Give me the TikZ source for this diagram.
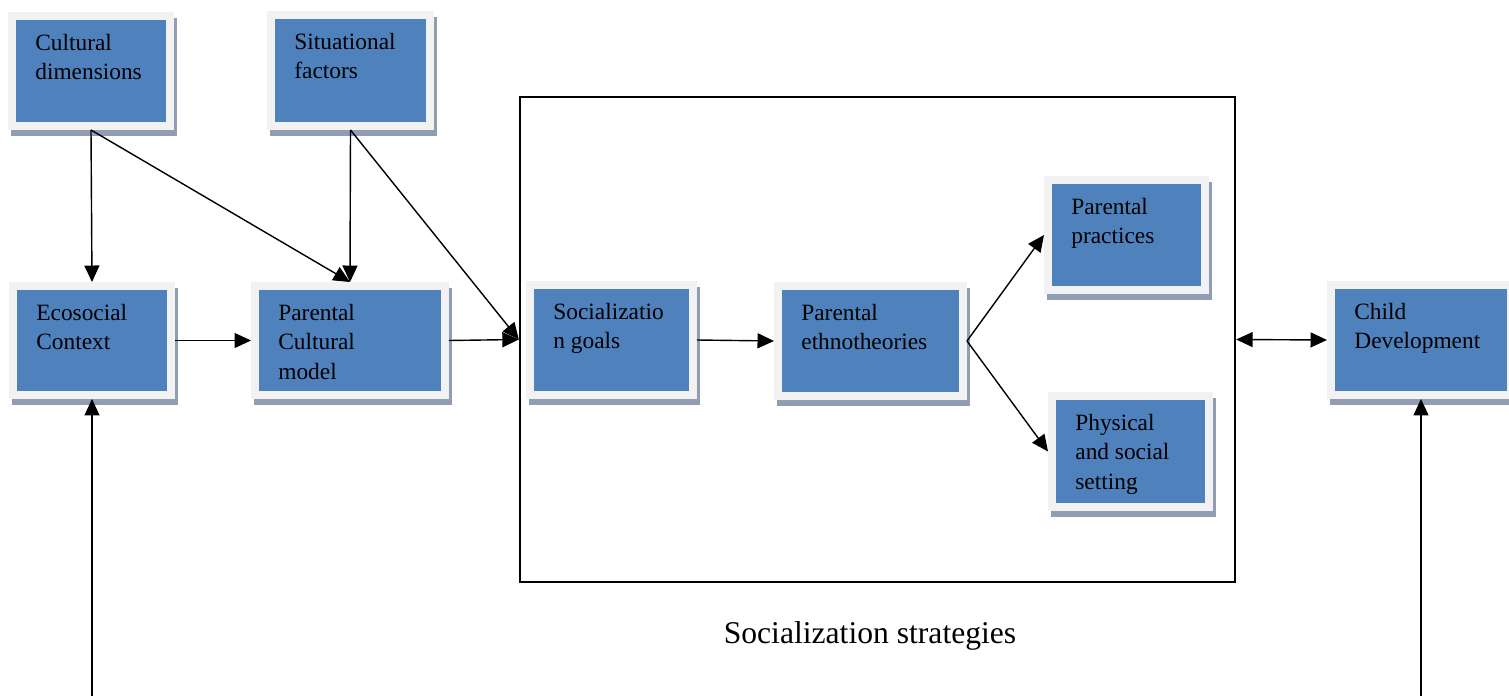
\documentclass[tikz,border=0pt]{standalone}
\usepackage{fontspec}
\setmainfont{Liberation Serif}
\usepackage{tikz}
\usetikzlibrary{arrows.meta,shadows}
\definecolor{boxblue}{HTML}{4F81BD}
\definecolor{boxframe}{HTML}{F2F2F2}
\definecolor{boxshadow}{HTML}{909DB2}
\tikzset{
	blk/.style={rectangle, fill=boxblue, draw=boxframe, line width=0.15cm, inner sep=0pt, minimum width=3.17cm, minimum height=2.21cm, general shadow={fill=boxshadow, draw=boxshadow, line width=0.15cm, shadow xshift=0.06cm, shadow yshift=-0.12cm}},
	txt/.style={anchor=base west, align=left, inner sep=0pt, font=\fontsize{13.3}{16.8}\selectfont, shift={(27,{38+29.6*#1})}},
	txt/.default=1,
	arr/.style={line width=0.8pt, -{Triangle[length=0.33cm, width=0.3cm]}},
	darr/.style={line width=0.8pt, {Triangle[length=0.33cm, width=0.3cm]}-{Triangle[length=0.33cm, width=0.3cm]}}
}
\begin{document}
\begin{tikzpicture}[x=0.02cm, y=-0.02cm]
		\useasboundingbox[fill=white] (0,0) rectangle (1509,696);
		\node[draw, line width=0.05cm, minimum width=14.3cm, minimum height=9.7cm, inner sep=0pt] (strat) at (877.5,339.5) {};
		\node[anchor=base, font=\fontsize{18}{21}\selectfont] (stratlbl) at (870,643) {Socialization strategies};
		\node[blk, label={[txt]north west:{Cultural\\dimensions}}] (cult) at (91,71) {};
		\node[blk, minimum width=3.19cm, minimum height=2.23cm, label={[txt]north west:{Situational\\factors}}] (sit) at (350.5,70.5) {};
		\node[blk, minimum height=2.19cm, label={[txt]north west:{Ecosocial\\Context}}] (eco) at (92,340.5) {};
		\node[blk, minimum width=3.81cm, minimum height=2.19cm, label={[txt=2]north west:{Parental\\Cultural\\model}}] (pcm) at (350,340.5) {};
		\node[blk, minimum width=3.27cm, label={[txt]north west:{Socializatio\\n goals}}] (soc) at (611.5,340) {};
		\node[blk, minimum width=3.71cm, label={[txt]north west:{Parental\\ethnotheories}}] (eth) at (870.5,341) {};
		\node[blk, minimum width=3.15cm, label={[txt]north west:{Parental\\practices}}] (prac) at (1126.5,235) {};
		\node[blk, minimum width=3.15cm, minimum height=2.23cm, label={[txt=2]north west:{Physical\\and social\\setting}}] (phys) at (1130.5,451.5) {};
		\node[blk, minimum width=3.61cm, label={[txt]north west:{Child\\Development}}] (child) at (1421,340) {};
		\coordinate (ecofoot) at (92,696);
		\coordinate (childfoot) at (1421,696);
		\draw[arr] (cult.south) -- (eco.north);
		\draw[arr] (cult.south) -- (pcm.north);
		\draw[arr] (sit.south) -- (pcm.north);
		\draw[arr] (sit.south) -- (strat.west);
		\draw[arr] (eco.east) -- (pcm.west);
		\draw[arr] (pcm.east) -- (strat.west);
		\draw[arr] (soc.east) -- (eth.west);
		\draw[arr] (eth.east) -- (prac.west);
		\draw[arr] (eth.east) -- (phys.west);
		\draw[darr] (strat.east) -- (child.west);
		\draw[arr] (ecofoot) -- (eco.south);
		\draw[arr] (childfoot) -- (child.south);
	\end{tikzpicture}
\end{document}
